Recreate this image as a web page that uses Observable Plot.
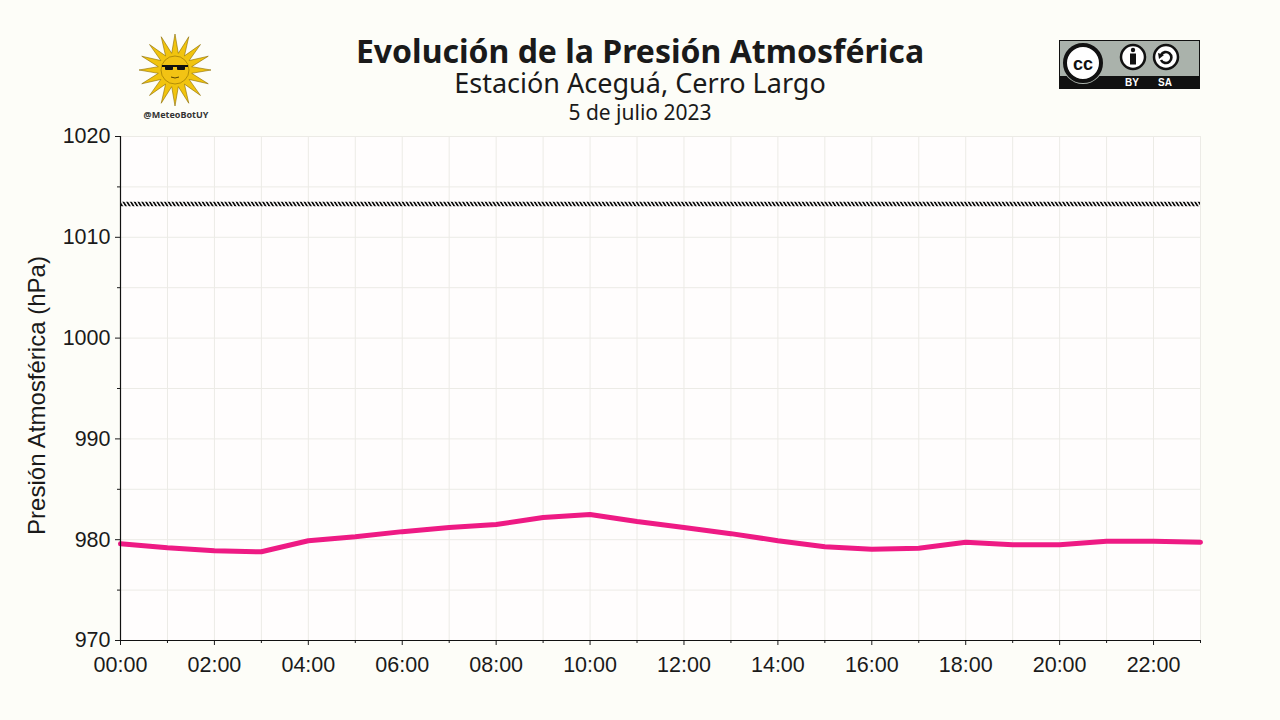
<!DOCTYPE html>
<html>
<head>
<meta charset="utf-8">
<script src="https://cdn.jsdelivr.net/npm/d3@7"></script>
<script src="https://cdn.jsdelivr.net/npm/@observablehq/plot@0.6"></script>
<style>
  html, body { margin: 0; padding: 0; background: #fdfdf8; }
  #wrap { position: relative; width: 1280px; height: 720px; overflow: hidden; }
  #chart { position: absolute; left: 0; top: 0; }
  .hdr { position: absolute; left: 0; width: 1280px; text-align: center; font-family: "Noto Sans", sans-serif; color: #1a1a1a; line-height: 0.8; white-space: nowrap; }
  #title { top: 38.2px; font-size: 32px; font-weight: bold; }
  #subtitle { top: 71.7px; font-size: 27px; }
  #date { top: 104.1px; font-size: 21px; }
  #logos { position: absolute; left: 0; top: 0; }
</style>
</head>
<body>
<div id="wrap">
  <div id="chart"></div>
  <div class="hdr" id="title">Evolución de la Presión Atmosférica</div>
  <div class="hdr" id="subtitle">Estación Aceguá, Cerro Largo</div>
  <div class="hdr" id="date">5 de julio 2023</div>
  <svg id="logos" width="1280" height="130"></svg>
</div>
<script>
// ---- data ----
const hours = [0,1,2,3,4,5,6,7,8,9,10,11,12,13,14,15,16,17,18,19,20,21,22,23];
const pressure = [979.6,979.2,978.9,978.8,979.9,980.3,980.8,981.2,981.5,982.2,982.5,981.8,981.2,980.6,979.9,979.3,979.05,979.15,979.75,979.5,979.5,979.85,979.85,979.75];
const referencePressure = [1013.25];
const yMajorTicks = [970,980,990,1000,1010,1020];
const yMinorTicks = [975,985,995,1005,1015];
const yGrid = [970,975,980,985,990,995,1000,1005,1010,1015,1020];
const xMajorTicks = [0,2,4,6,8,10,12,14,16,18,20,22];
const xMinorTicks = [1,3,5,7,9,11,13,15,17,19,21,23];
const yLabel = "Presión Atmosférica (hPa)";

const data = hours.map((h, i) => ({hour: h, p: pressure[i]}));
const fmtHour = h => String(h).padStart(2, "0") + ":00";

const plot = Plot.plot({
  width: 1280,
  height: 720,
  marginTop: 136,
  marginBottom: 80,
  marginLeft: 120,
  marginRight: 80,
  style: {fontFamily: "'Liberation Sans', Arial, sans-serif", background: "transparent", color: "#1a1a1a"},
  x: {domain: [0, 23]},
  y: {domain: [970, 1020]},
  marks: [
    Plot.frame({fill: "#fffdfd", stroke: null}),
    Plot.gridX(hours, {stroke: "#ecebe6", strokeOpacity: 1}),
    Plot.gridY(yGrid, {stroke: "#ecebe6", strokeOpacity: 1}),
    Plot.ruleY(referencePressure, {stroke: "url(#hatch)", strokeWidth: 4.5, dy: -0.5}),
    Plot.line(data, {x: "hour", y: "p", stroke: "#ee1a84", strokeWidth: 5, strokeLinejoin: "miter"}),
    Plot.axisY({ticks: yMajorTicks, tickSize: 5, tickPadding: 5, fontSize: 21.5, label: null, tickFormat: d => String(d)}),
    Plot.axisY({ticks: yMinorTicks, tickSize: 3, tickFormat: () => "", label: null}),
    Plot.axisX({ticks: xMajorTicks, tickSize: 5, tickPadding: 11, fontSize: 21.5, label: null, tickFormat: fmtHour}),
    Plot.axisX({ticks: xMinorTicks, tickSize: 3, tickFormat: () => "", label: null}),
    Plot.ruleX([0], {stroke: "#111", strokeWidth: 1.2}),
    Plot.ruleY([970], {stroke: "#111", strokeWidth: 1.2}),
    Plot.text([yLabel], {frameAnchor: "left", textAnchor: "middle", rotate: -90, dx: -83, dy: 7, fontSize: 24, fill: "#1a1a1a"})
  ]
});

// hatch pattern for the reference line
const svgSel = d3.select(plot);
const pat = svgSel.insert("defs", ":first-child")
  .append("pattern")
  .attr("id", "hatch")
  .attr("patternUnits", "userSpaceOnUse")
  .attr("patternTransform", "rotate(-32)")
  .attr("width", 3.2).attr("height", 20);
pat.append("rect").attr("x", 0).attr("y", 0).attr("width", 1.7).attr("height", 20).attr("fill", "#0a0a0a");

document.getElementById("chart").appendChild(plot);

// ---- logos (decorative) ----
const logos = d3.select("#logos");
// sun
const sun = logos.append("g").attr("transform", "translate(175,70)");
const rays = [];
const nR = 16;
for (let i = 0; i < nR * 2; i++) {
  const a = (i / (nR * 2)) * 2 * Math.PI - Math.PI / 2;
  const r = i % 2 === 0 ? 36 : 17;
  rays.push([Math.cos(a) * r, Math.sin(a) * r]);
}
sun.append("polygon").attr("points", rays.map(p => p.join(",")).join(" "))
  .attr("fill", "#f1c40f").attr("stroke", "#8a6a00").attr("stroke-width", 0.6);
sun.append("circle").attr("r", 14).attr("fill", "#f2c314").attr("stroke", "#8a6a00").attr("stroke-width", 0.6);
sun.append("rect").attr("x", -13).attr("y", -5).attr("width", 26).attr("height", 2).attr("fill", "#111");
sun.append("rect").attr("x", -10).attr("y", -4).attr("width", 8).attr("height", 4).attr("rx", 1).attr("fill", "#111");
sun.append("rect").attr("x", 2).attr("y", -4).attr("width", 8).attr("height", 4).attr("rx", 1).attr("fill", "#111");
sun.append("path").attr("d", "M-4,7 Q0,9 4,7").attr("stroke", "#5a4300").attr("fill", "none").attr("stroke-width", 1);
logos.append("text").attr("x", 176).attr("y", 118).attr("text-anchor", "middle")
  .attr("font-family", "'Noto Sans', sans-serif").attr("font-weight", "bold").attr("font-size", 9).attr("fill", "#333")
  .text("@MeteoBotUY");

// CC BY-SA badge
const cc = logos.append("g");
cc.append("rect").attr("x", 1059.5).attr("y", 40.5).attr("width", 140).attr("height", 48).attr("fill", "#aab2ab").attr("stroke", "#111").attr("stroke-width", 1);
cc.append("rect").attr("x", 1060).attr("y", 76).attr("width", 139).attr("height", 12.5).attr("fill", "#111");
cc.append("circle").attr("cx", 1083).attr("cy", 63).attr("r", 21).attr("fill", "#aab2ab");
cc.append("circle").attr("cx", 1083).attr("cy", 63).attr("r", 18).attr("fill", "#fff").attr("stroke", "#111").attr("stroke-width", 4);
cc.append("text").attr("x", 1083).attr("y", 69.5).attr("text-anchor", "middle").attr("font-family", "'Liberation Sans', sans-serif")
  .attr("font-weight", "bold").attr("font-size", 18).attr("fill", "#111").text("cc");
cc.append("circle").attr("cx", 1133).attr("cy", 57).attr("r", 12).attr("fill", "#fff").attr("stroke", "#111").attr("stroke-width", 2.5);
cc.append("circle").attr("cx", 1133).attr("cy", 50).attr("r", 2.2).attr("fill", "#111");
cc.append("rect").attr("x", 1130).attr("y", 53.5).attr("width", 6).attr("height", 11).attr("fill", "#111");
cc.append("circle").attr("cx", 1166).attr("cy", 57).attr("r", 12).attr("fill", "#fff").attr("stroke", "#111").attr("stroke-width", 2.5);
cc.append("path").attr("d", "M1161,55 A5.5,5.5 0 1 1 1161,60").attr("fill", "none").attr("stroke", "#111").attr("stroke-width", 2.6);
cc.append("path").attr("d", "M1158,53 L1164,55 L1159,59 Z").attr("fill", "#111");
cc.append("text").attr("x", 1132).attr("y", 86).attr("text-anchor", "middle").attr("font-family", "'Liberation Sans', sans-serif")
  .attr("font-weight", "bold").attr("font-size", 10).attr("fill", "#fff").text("BY");
cc.append("text").attr("x", 1165).attr("y", 86).attr("text-anchor", "middle").attr("font-family", "'Liberation Sans', sans-serif")
  .attr("font-weight", "bold").attr("font-size", 10).attr("fill", "#fff").text("SA");
</script>
</body>
</html>
